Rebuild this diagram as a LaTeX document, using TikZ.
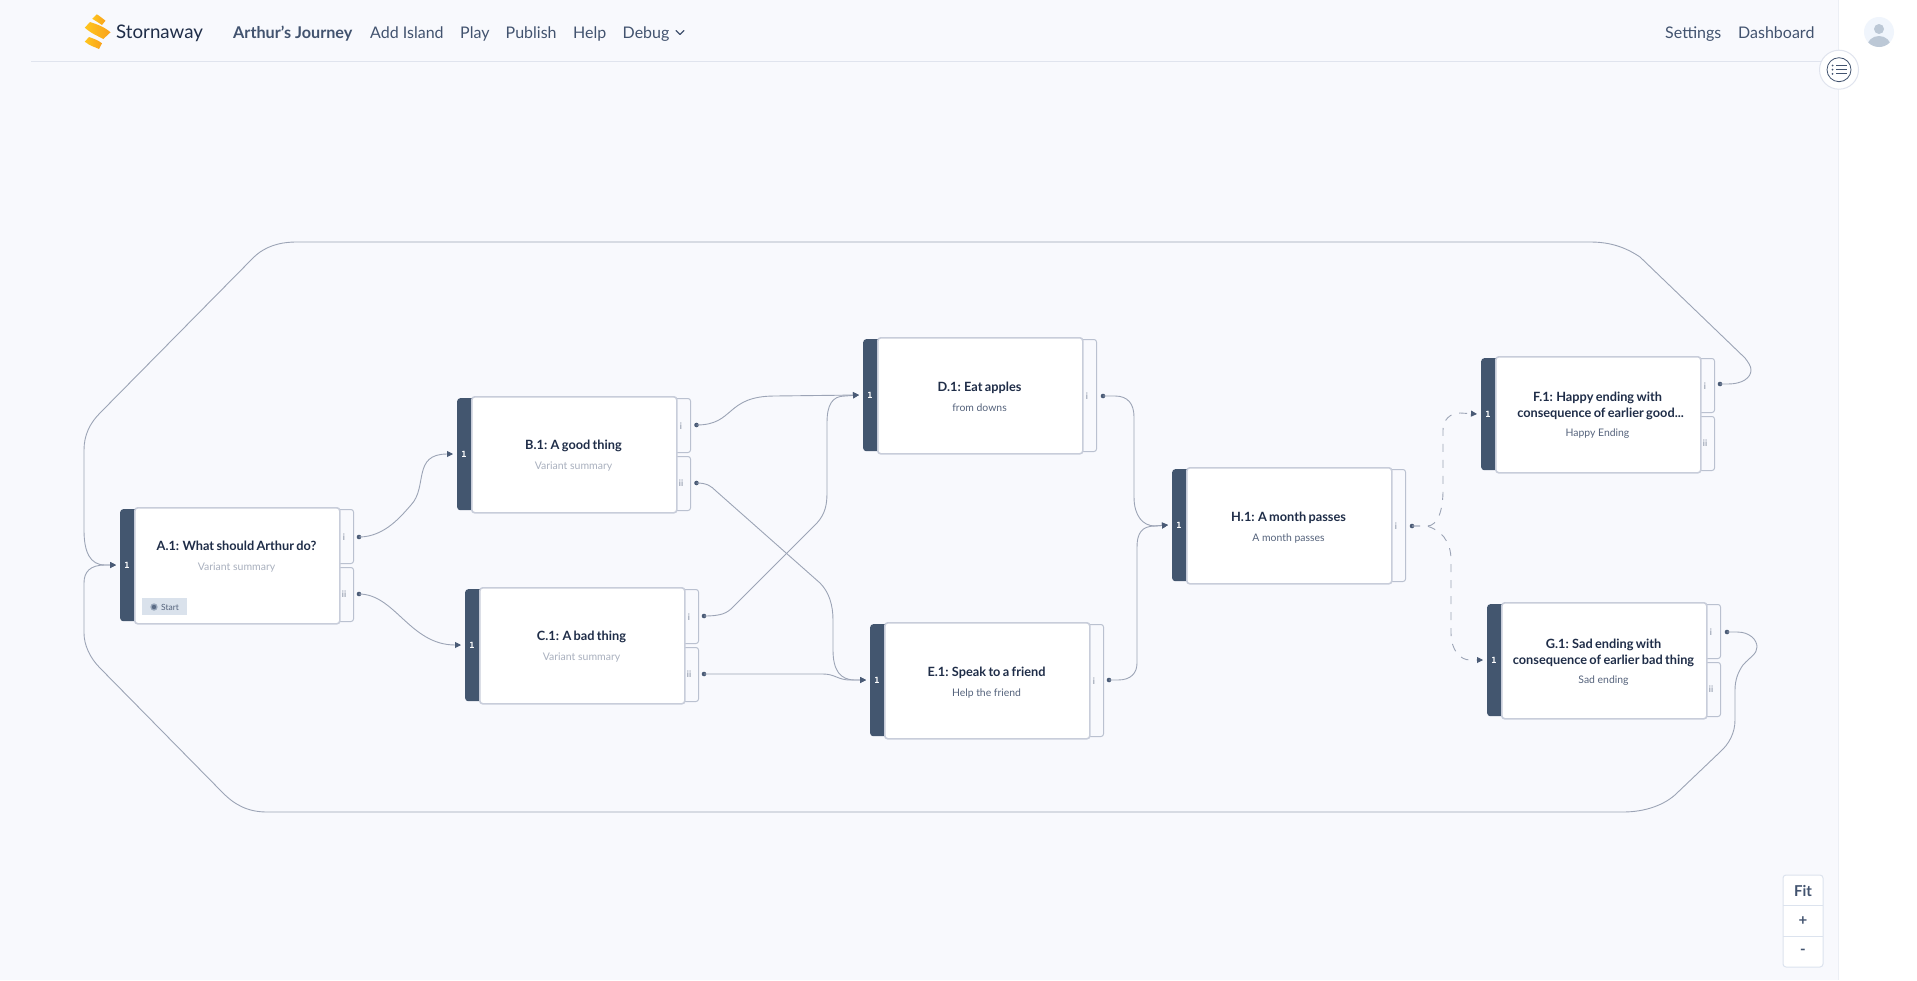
\documentclass[tikz,border=0pt]{standalone}
\usepackage{fontspec}
\setmainfont{Lato}
\newfontfamily\titlefam{Lato}[WordSpace=0.75]
\newfontfamily\monofam{DejaVu Sans Mono}
\usetikzlibrary{arrows.meta}
\definecolor{pagebg}{HTML}{F8F9FD}
\definecolor{navtext}{HTML}{42536F}
\definecolor{titletext}{HTML}{1F2D48}
\definecolor{subdark}{HTML}{55637C}
\definecolor{sublight}{HTML}{A9B0BE}
\definecolor{barfill}{HTML}{43566F}
\definecolor{cardline}{HTML}{C8CDDA}
\definecolor{tabline}{HTML}{BAC1D0}
\definecolor{tabtext}{HTML}{7F8A9E}
\definecolor{wire}{HTML}{9CA4B6}
\definecolor{dotc}{HTML}{4A5B76}
\definecolor{rulec}{HTML}{E0E4EE}
\definecolor{avatarbg}{HTML}{F0F5FC}
\definecolor{avatarfg}{HTML}{BCC8D6}
\definecolor{tagfill}{HTML}{DAE2EC}
\definecolor{radioout}{HTML}{9AA8BC}
\definecolor{radioin}{HTML}{5A6B85}
\definecolor{ctrlline}{HTML}{DCE3EE}
\definecolor{logoa}{HTML}{FFC61E}
\definecolor{logob}{HTML}{F9A11B}
\tikzset{
  cardbox/.style={draw=cardline,line width=1.6pt,fill=white,rounded corners=3pt,minimum width=205pt,minimum height=116pt,inner sep=0pt,anchor=north west},
  barbox/.style={fill=barfill,rounded corners=3pt,minimum width=20pt,minimum height=112pt,inner sep=0pt,anchor=north west},
  tabbox/.style={draw=tabline,line width=1pt,fill=pagebg,rounded corners=2.5pt,minimum width=23pt,inner sep=0pt,anchor=north west},
  barnum/.style={text=white,font=\monofam\bfseries\fontsize{8.5}{10}\selectfont,inner sep=0pt},
  tabnum/.style={text=tabtext,font=\fontsize{9}{10}\selectfont,inner sep=0pt},
  outdot/.style={circle,fill=dotc,minimum size=4.6pt,inner sep=0pt},
  navitem/.style={text=navtext,font=\fontsize{16}{19}\selectfont,inner sep=0pt,anchor=mid west,yshift=-2.5pt},
  cardtitle/.style={text=titletext,font=\titlefam\bfseries\fontsize{12.75}{16}\selectfont,inner sep=0pt,anchor=mid,yshift=-2pt},
  subdarkt/.style={text=subdark,font=\fontsize{10.4}{13}\selectfont,inner sep=0pt,anchor=mid,yshift=-1.5pt},
  sublightt/.style={text=sublight,font=\fontsize{10.5}{13}\selectfont,inner sep=0pt,anchor=mid,yshift=-1.5pt},
  wireline/.style={draw=wire,line width=0.9pt,-{Triangle[length=6pt,width=6pt,color=dotc,fill=dotc]}},
  dashline/.style={wireline,dash pattern=on 8pt off 8pt},
  ctrlcell/.style={text=navtext,font=\bfseries\fontsize{15}{18}\selectfont,inner sep=0pt},
  logoband/.style={left color=logoa,right color=logob},
}
% name, card left, card top, number of tabs
\newcommand{\storycard}[4]{%
  \node[barbox] (#1bar) at (#2-14,#3+2) {};
  \ifnum#4=2
    \node[tabbox,minimum height=54pt] (#1taba) at (#2+196,#3+2) {};
    \node[tabbox,minimum height=54pt] (#1tabb) at (#2+196,#3+60) {};
    \node[tabnum] (#1labb) at (#2+210,#3+87) {ii};
    \node[tabnum] (#1laba) at (#2+210,#3+30) {i};
  \else
    \node[tabbox,minimum height=112pt] (#1taba) at (#2+196,#3+2) {};
    \node[tabnum] (#1laba) at (#2+210,#3+59) {i};
  \fi
  \node[cardbox] (#1) at (#2,#3) {};
  \node[barnum] (#1num) at (#2-7,#3+58) {1};
  \coordinate (#1in) at (#2-18,#3+58);
}
\begin{document}
\begin{tikzpicture}[x=1pt,y=-1pt]
\useasboundingbox (0,0) rectangle (1917,980);
\fill[pagebg] (0,0) rectangle (1917,980);
% right side panel
\fill[white] (1839,0) rectangle (1917,980);
\fill[rulec!60] (1837.5,0) rectangle (1839,980);
% header
\draw[rulec,line width=1pt] (31,61.5) -- (1839,61.5);
\shade[logoband]
  (96.7,14.3) .. controls (99,15.5) and (102,18) .. (105.5,20.7) -- (102,25) .. controls (99,23) and (96,21) .. (92.2,18.8) -- cycle;
\shade[logoband]
  (90,22) .. controls (96,24) and (104,26.5) .. (110.5,32.3) -- (103.3,39) .. controls (98,36) and (92,34) .. (84.8,27.7) -- cycle;
\shade[logoband]
  (89,37) .. controls (93,38.5) and (98,40) .. (102,43.3) -- (99,49) .. controls (95,47) and (90,46) .. (84.8,41.7) -- cycle;
\node[text=titletext,font=\fontsize{18.7}{22}\selectfont,inner sep=0pt,anchor=mid west,yshift=-2.5pt] (brand) at (116,33) {Stornaway};
\node[navitem,font=\bfseries\fontsize{16.2}{19}\selectfont] (navtitle) at (233,33) {Arthur's Journey};
\node[navitem] (navadd) at (370,33) {Add Island};
\node[navitem] (navplay) at (460,33) {Play};
\node[navitem] (navpub) at (505.5,33) {Publish};
\node[navitem] (navhelp) at (573,33) {Help};
\node[navitem] (navdebug) at (622.5,33) {Debug};
\draw[navtext,line width=1.1pt,line cap=round,line join=round] (676,30.5) -- (680,34.5) -- (684,30.5);
\node[navitem] (navset) at (1665,33) {Settings};
\node[navitem] (navdash) at (1738,33) {Dashboard};
% avatar
\fill[avatarbg] (1879,32) circle (15);
\begin{scope}
  \clip (1879,32) circle (15);
  \fill[avatarfg] (1879,29) circle (5);
  \fill[avatarfg] (1879,47) ellipse (12 and 11);
\end{scope}
% outline button
\draw[rulec,line width=1pt,fill=white] (1839,69.7) circle (19.5);
\draw[navtext,line width=0.8pt] (1839,69.7) circle (12);
\foreach \ly in {65.5,69.7,73.9}{
  \fill[navtext] (1832.5,\ly) circle (1);
  \draw[navtext,line width=0.9pt] (1836,\ly) -- (1847,\ly);
}
% cards
\storycard{A}{134}{507}{2}
\storycard{B}{471}{396}{2}
\storycard{C}{479}{587}{2}
\storycard{D}{877}{337}{1}
\storycard{E}{884}{622}{1}
\storycard{H}{1186}{467}{1}
\storycard{F}{1495}{356}{2}
\storycard{G}{1501}{602}{2}
% output dots
\node[outdot] (Aa) at (359,537) {};
\node[outdot] (Ab) at (359,594) {};
\node[outdot] (Ba) at (696.5,425) {};
\node[outdot] (Bb) at (696.5,483) {};
\node[outdot] (Ca) at (704,616) {};
\node[outdot] (Cb) at (704,674) {};
\node[outdot] (Da) at (1103,396) {};
\node[outdot] (Ea) at (1109,680) {};
\node[outdot] (Ha) at (1412,526) {};
\node[outdot] (Fa) at (1720,384) {};
\node[outdot] (Ga) at (1727,632) {};
% card texts
\node[cardtitle] (Atitle) at (236.5,545.7) {A.1: What should Arthur do?};
\node[sublightt] (Asub) at (236.5,566) {Variant summary};
\node[fill=tagfill,inner sep=0pt,minimum width=45pt,minimum height=17pt] (Atag) at (164.5,606.5) {};
\fill[radioout] (154,607) circle (3.7);
\fill[radioin] (154,607) circle (2.2);
\node[text=subdark,font=\fontsize{8.5}{10}\selectfont,inner sep=0pt] (Astart) at (170,607) {Start};
\node[cardtitle] (Btitle) at (573.5,444.5) {B.1: A good thing};
\node[sublightt] (Bsub) at (573.5,465) {Variant summary};
\node[cardtitle] (Ctitle) at (581.5,636) {C.1: A bad thing};
\node[sublightt] (Csub) at (581.5,656) {Variant summary};
\node[cardtitle] (Dtitle) at (979.5,387) {D.1: Eat apples};
\node[subdarkt] (Dsub) at (979.5,407) {from downs};
\node[cardtitle] (Etitle) at (986.5,672) {E.1: Speak to a friend};
\node[subdarkt] (Esub) at (986.5,692.5) {Help the friend};
\node[cardtitle] (Htitle) at (1288.5,516.5) {H.1: A month passes};
\node[subdarkt] (Hsub) at (1288.5,537) {A month passes};
\node[cardtitle] (Ftitlea) at (1597.5,397) {F.1: Happy ending with};
\node[cardtitle] (Ftitleb) at (1600.5,413) {consequence of earlier good...};
\node[subdarkt] (Fsub) at (1597.5,432.5) {Happy Ending};
\node[cardtitle] (Gtitlea) at (1603.5,643.5) {G.1: Sad ending with};
\node[cardtitle] (Gtitleb) at (1603.5,659.5) {consequence of earlier bad thing};
\node[subdarkt] (Gsub) at (1603.5,679) {Sad ending};
% connectors
\draw[wireline] (Aa.center) .. controls (385,537) and (402,515) .. (411,505) .. controls (428,487) and (412,454) .. (Bin);
\draw[wireline] (Ab.center) .. controls (395,594) and (410,645) .. (Cin);
\draw[wireline] (Ba.center) .. controls (735,425) and (725,396) .. (775,396) -- (Din);
\draw[wireline] (Ca.center) .. controls (722,616) and (727,613) .. (733,607) -- (817,523) .. controls (825,514) and (827,505) .. (827,493) -- (827,423) .. controls (827,405) and (832,396) .. (845,396) -- (Din);
\draw[wireline] (Bb.center) .. controls (707,483) and (711,486) .. (716,491) -- (820,583) .. controls (829,592) and (833,605) .. (833,620) -- (833,650) .. controls (833,670) and (840,680) .. (855,680) -- (Ein);
\draw[wireline] (Cb.center) -- (823,674) .. controls (835,674) and (838,680) .. (850,680) -- (Ein);
\draw[wireline] (Da.center) -- (1115,396) .. controls (1128,396) and (1134,404) .. (1134,417) -- (1134,497) .. controls (1134,516) and (1143,526) .. (1155,526) -- (Hin);
\draw[wireline] (Ea.center) -- (1118,680) .. controls (1131,680) and (1137,673) .. (1137,663) -- (1137,547) .. controls (1137,533) and (1142,526) .. (1155,526) -- (Hin);
\draw[dashline] (Ha.center) -- (1427,526) .. controls (1438,526) and (1443,510) .. (1443,490) -- (1443,430) .. controls (1443,420) and (1450,413) .. (1460,413) -- (Fin);
\draw[dashline] (Ha.center) -- (1427,526) .. controls (1440,530) and (1451,540) .. (1451,560) -- (1451,633) .. controls (1451,650) and (1460,660) .. (1470,660) -- (Gin);
\draw[wireline] (Fa.center) -- (1728,384) .. controls (1742,384) and (1751,378) .. (1751,370) .. controls (1751,366) and (1748,362) .. (1745,358) -- (1640,257) .. controls (1625,247) and (1610,242) .. (1590,242) -- (297,242) .. controls (280,242) and (265,246) .. (253,258) -- (100,413) .. controls (90,423) and (84,435) .. (84,450) -- (84,530) .. controls (84,552) and (90,565) .. (105,565) -- (Ain);
\draw[wireline] (Ga.center) -- (1737,632) .. controls (1750,632) and (1757,640) .. (1757,647) .. controls (1757,654) and (1750,657) .. (1743,665) .. controls (1738,672) and (1735,680) .. (1735,690) -- (1735,720) .. controls (1735,733) and (1729,744) .. (1720,752) -- (1677,793) .. controls (1665,805) and (1645,812) .. (1623,812) -- (267,812) .. controls (248,812) and (235,805) .. (223,793) -- (100,668) .. controls (90,658) and (84,645) .. (84,633) -- (84,583) .. controls (84,572) and (90,565) .. (105,565) -- (Ain);
% zoom control
\draw[ctrlline,line width=1pt,fill=white,rounded corners=3pt] (1783,875) rectangle (1823,967);
\draw[ctrlline,line width=1pt] (1783,905) -- (1823,905);
\draw[ctrlline,line width=1pt] (1783,936) -- (1823,936);
\node[ctrlcell] (ctrlfit) at (1803,891) {Fit};
\node[ctrlcell] (ctrlplus) at (1803,921) {+};
\node[ctrlcell] (ctrlminus) at (1803,952) {-};
\end{tikzpicture}
\end{document}
